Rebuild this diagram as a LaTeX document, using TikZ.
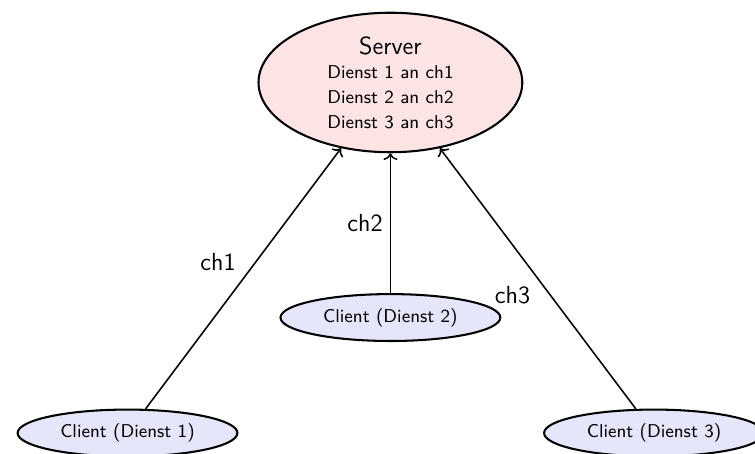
\documentclass[tikz,border=0pt]{standalone}
\usepackage{xcolor}
\usepackage{tikz}
\usetikzlibrary{arrows.meta,positioning,shapes.geometric}
\renewcommand{\familydefault}{\sfdefault}
\definecolor{ink}{HTML}{000000}
\definecolor{srvfill}{HTML}{FCE4E4}
\definecolor{clifill}{HTML}{E6E6FA}
\tikzset{
  srvbox/.style={ellipse,draw=ink,line width=1pt,fill=srvfill,text=ink,
    align=center,minimum width=4.5cm,minimum height=2.38cm,inner sep=1pt},
  clibox/.style={ellipse,draw=ink,line width=1pt,fill=clifill,text=ink,
    font=\small,minimum width=3.75cm,minimum height=0.8cm,inner sep=1pt},
  charr/.style={->,line width=0.75pt,color=ink},
  chlabel/.style={font=\large,color=ink},
}

\begin{document}
\begin{tikzpicture}
  \useasboundingbox (0,0) rectangle (12.88,-7.73);

  \node[srvbox] (srv) at (6.66,-1.407)
    {{\large Server}\\{\small Dienst 1 an ch1}\\{\small Dienst 2 an ch2}\\{\small Dienst 3 an ch3}};

  \node[clibox] (c1) at (2.175,-7.387) {Client (Dienst 1)};
  \node[clibox] (c2) at (6.66,-5.417) {Client (Dienst 2)};
  \node[clibox] (c3) at (11.157,-7.387) {Client (Dienst 3)};

  \draw[charr] (c1) -- node[above left,chlabel]{ch1} (srv);
  \draw[charr] (c2) -- node[left,chlabel]{ch2} (srv);
  \draw[charr] (c3) -- node[below left,chlabel]{ch3} (srv);
\end{tikzpicture}
\end{document}
